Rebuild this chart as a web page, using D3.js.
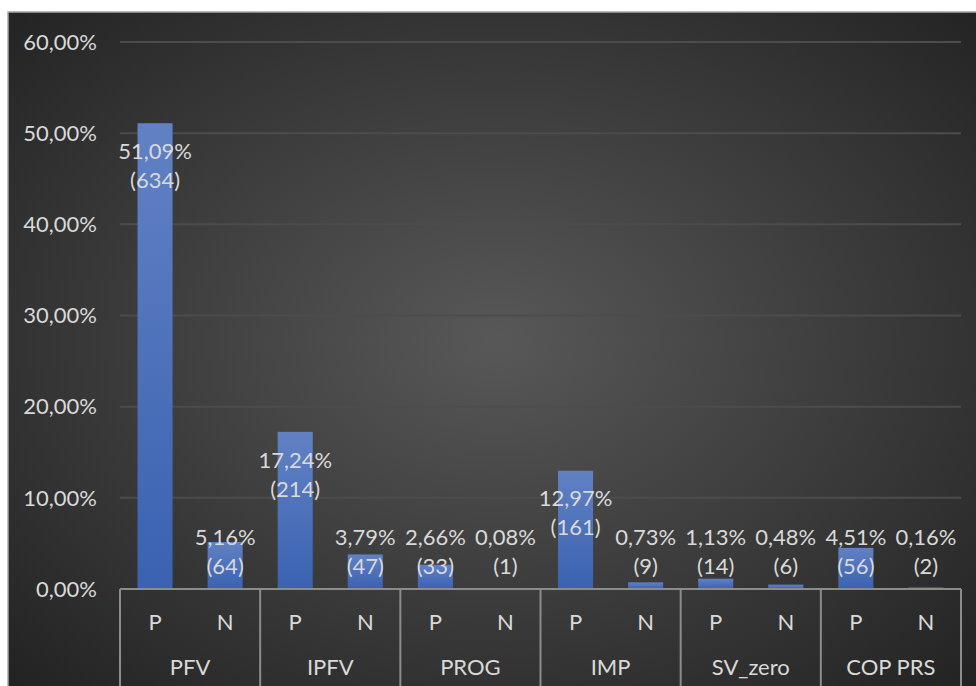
<!DOCTYPE html>
<html>
<head>
<meta charset="utf-8">
<script src="https://cdn.jsdelivr.net/npm/d3@7"></script>
<style>
  html, body { margin: 0; padding: 0; background: #fff; }
  svg { display: block; }
  text { font-family: Lato, "Open Sans", sans-serif; fill: #d9d9d9; }
</style>
</head>
<body>
<script>
// Chart data
const groups = ['PFV', 'IPFV', 'PROG', 'IMP', 'SV_zero', 'COP PRS'];
const subLabels = ['P', 'N'];
const pValues = [51.09, 17.24, 2.66, 12.97, 1.13, 4.51];
const nValues = [5.16, 3.79, 0.08, 0.73, 0.48, 0.16];
const pCounts = [634, 214, 33, 161, 14, 56];
const nCounts = [64, 47, 1, 9, 6, 2];
const yTicks = [0, 10, 20, 30, 40, 50, 60];

const width = 976, height = 686;
const plot = { left: 120, right: 961, top: 42, bottom: 589 };
const fontSize = '22px';

const bars = [];
groups.forEach((g, i) => {
    bars.push({ group: g, sub: 'P', value: pValues[i], count: pCounts[i] });
    bars.push({ group: g, sub: 'N', value: nValues[i], count: nCounts[i] });
});

const locale = d3.formatLocale({ decimal: ',', thousands: '.', grouping: [3], currency: ['', ''] });
const pct = v => locale.format('.2f')(v) + '%';

const groupScale = d3.scaleBand().domain(groups).range([plot.left, plot.right]).padding(0);
const subScale = d3.scaleBand().domain(subLabels).range([0, groupScale.bandwidth()])
    .paddingInner(0.5).paddingOuter(0.25);
const yScale = d3.scaleLinear().domain([0, 60]).range([plot.bottom, plot.top]);

const svg = d3.select('body').append('svg').attr('width', width).attr('height', height);

// Background gradient
const defs = svg.append('defs');
const bg = defs.append('radialGradient').attr('id', 'bg')
    .attr('cx', '50%').attr('cy', '48%').attr('r', '75%');
bg.append('stop').attr('offset', '0%').attr('stop-color', '#585858');
bg.append('stop').attr('offset', '100%').attr('stop-color', '#1f1f1f');

const barGrad = defs.append('linearGradient').attr('id', 'bar')
    .attr('x1', 0).attr('y1', 0).attr('x2', 0).attr('y2', 1);
barGrad.append('stop').attr('offset', '0%').attr('stop-color', '#6181c4');
barGrad.append('stop').attr('offset', '100%').attr('stop-color', '#3a62b1');

svg.append('rect')
    .attr('x', 8).attr('y', 12).attr('width', width).attr('height', height)
    .attr('fill', 'url(#bg)')
    .attr('stroke', '#a6a6a6').attr('stroke-width', 1.5);

// Gridlines
svg.append('g').selectAll('line').data(yTicks.slice(1)).enter().append('line')
    .attr('x1', plot.left).attr('x2', plot.right)
    .attr('y1', d => yScale(d)).attr('y2', d => yScale(d))
    .attr('stroke', '#4c4c4c').attr('stroke-width', 2);

// Y tick labels
svg.append('g').selectAll('text').data(yTicks).enter().append('text')
    .attr('x', 97).attr('y', d => yScale(d))
    .attr('dy', '0.35em')
    .attr('text-anchor', 'end')
    .style('font-size', fontSize)
    .text(d => locale.format('.2f')(d) + '%');

// Bars
const barX = d => groupScale(d.group) + subScale(d.sub);
svg.append('g').selectAll('rect').data(bars).enter().append('rect')
    .attr('x', barX)
    .attr('y', d => yScale(d.value))
    .attr('width', subScale.bandwidth())
    .attr('height', d => plot.bottom - yScale(d.value))
    .attr('fill', 'url(#bar)');

// Category axis
svg.append('line')
    .attr('x1', plot.left).attr('x2', plot.right)
    .attr('y1', plot.bottom).attr('y2', plot.bottom)
    .attr('stroke', '#8c8c8c').attr('stroke-width', 2);

svg.append('g').selectAll('line').data(groups.concat(['end'])).enter().append('line')
    .attr('x1', (d, i) => i < groups.length ? groupScale(d) : plot.right)
    .attr('x2', (d, i) => i < groups.length ? groupScale(d) : plot.right)
    .attr('y1', plot.bottom).attr('y2', height)
    .attr('stroke', '#8c8c8c').attr('stroke-width', 2);

svg.append('g').selectAll('text').data(bars).enter().append('text')
    .attr('x', d => barX(d) + subScale.bandwidth() / 2)
    .attr('y', 622).attr('dy', '0.35em')
    .attr('text-anchor', 'middle')
    .style('font-size', fontSize)
    .text(d => d.sub);

svg.append('g').selectAll('text').data(groups).enter().append('text')
    .attr('x', d => groupScale(d) + groupScale.bandwidth() / 2)
    .attr('y', 667).attr('dy', '0.35em')
    .attr('text-anchor', 'middle')
    .style('font-size', fontSize)
    .text(d => d);

// Data labels (inside end, kept within plot area)
const labels = svg.append('g').selectAll('g').data(bars).enter().append('g')
    .attr('transform', d => `translate(${barX(d) + subScale.bandwidth() / 2}, ${Math.min(yScale(d.value) + 28, 537)})`);
labels.append('text')
    .attr('text-anchor', 'middle').attr('dy', '0.35em')
    .style('font-size', fontSize)
    .text(d => pct(d.value));
labels.append('text')
    .attr('text-anchor', 'middle').attr('y', 29).attr('dy', '0.35em')
    .style('font-size', fontSize)
    .text(d => `(${d.count})`);
</script>
</body>
</html>
